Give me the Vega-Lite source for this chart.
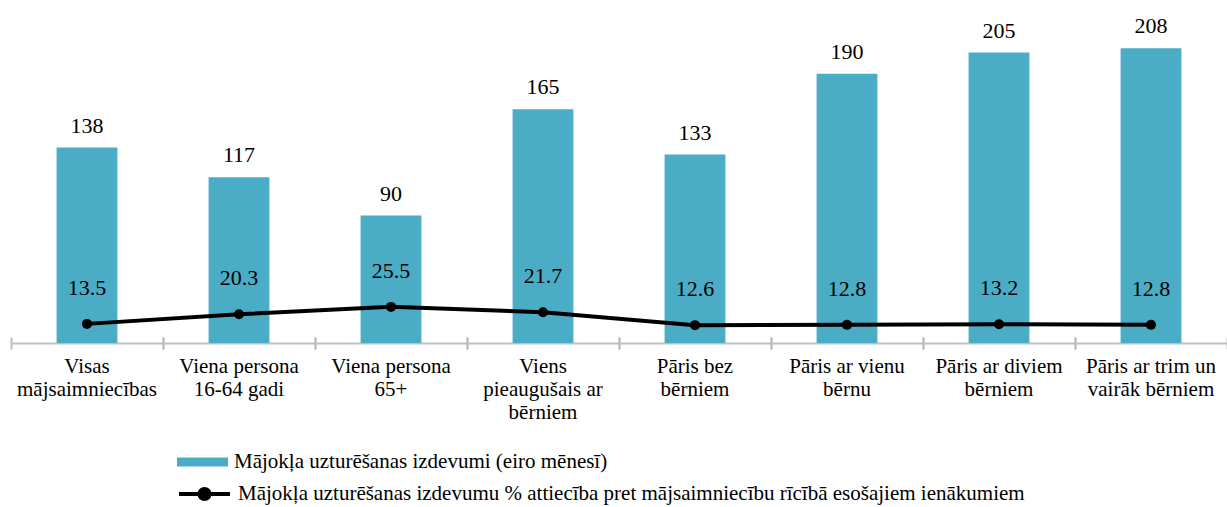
{
  "$schema": "https://vega.github.io/schema/vega-lite/v6.json",
  "width": 1216,
  "height": 340,
  "padding": {"left": 10, "top": 3, "right": 0, "bottom": 0},
  "background": "white",
  "config": {"view": {"stroke": null}, "font": "Liberation Serif"},
  "data": {
    "values": [
      {"cat": "Visas|mājsaimniecības", "exp": 138, "ratio": 13.5},
      {"cat": "Viena persona|16-64 gadi", "exp": 117, "ratio": 20.3},
      {"cat": "Viena persona|65+", "exp": 90, "ratio": 25.5},
      {"cat": "Viens|pieaugušais ar|bērniem", "exp": 165, "ratio": 21.7},
      {"cat": "Pāris bez|bērniem", "exp": 133, "ratio": 12.6},
      {"cat": "Pāris ar vienu|bērnu", "exp": 190, "ratio": 12.8},
      {"cat": "Pāris ar diviem|bērniem", "exp": 205, "ratio": 13.2},
      {"cat": "Pāris ar trim un|vairāk bērniem", "exp": 208, "ratio": 12.8}
    ]
  },
  "layer": [
    {
      "mark": {"type": "bar", "width": {"band": 0.4}},
      "encoding": {
        "x": {"field": "cat", "type": "nominal", "sort": null,
          "scale": {"paddingInner": 0, "paddingOuter": 0},
          "axis": {"orient": "bottom", "title": null, "labelExpr": "split(datum.value, '|')", "labelAngle": 0, "ticks": false, "domain": false, "grid": false,
            "labelFont": "Liberation Serif", "labelFontSize": 21, "labelColor": "black", "labelPadding": 12, "labelLineHeight": 23,
            "labelBaseline": "top", "labelOverlap": false, "labelBound": false}},
        "y": {"field": "exp", "type": "quantitative", "scale": {"domain": [0, 240]}, "axis": null},
        "fill": {"datum": "Mājokļa uzturēšanas izdevumi (eiro mēnesī)", "type": "nominal",
          "scale": {"range": ["#4BACC6"]},
          "legend": {"orient": "none", "legendX": 166, "legendY": 433.5, "title": null, "padding": 0,
            "symbolType": "M-1,-0.18H1V0.18H-1Z", "symbolSize": 2601, "symbolStrokeWidth": 0, "symbolOpacity": 1,
            "labelOffset": 6, "labelFont": "Liberation Serif", "labelFontSize": 21, "labelColor": "black", "labelLimit": 1200}}
      }
    },
    {
      "mark": {"type": "text", "baseline": "middle", "dy": -22, "fontSize": 22, "font": "Liberation Serif", "color": "black"},
      "encoding": {
        "x": {"field": "cat", "type": "nominal", "sort": null,
          "axis": {"orient": "bottom", "title": null, "bandPosition": 0, "labels": false, "ticks": true, "tickSize": 6, "tickColor": "#BFBFBF", "tickWidth": 2,
            "domain": true, "domainColor": "#BFBFBF", "domainWidth": 2, "grid": false}},
        "y": {"field": "exp", "type": "quantitative", "scale": {"domain": [0, 240]}, "axis": null},
        "text": {"field": "exp", "type": "quantitative"}
      }
    },
    {
      "mark": {"type": "line", "strokeWidth": 4},
      "encoding": {
        "x": {"field": "cat", "type": "nominal", "sort": null,
          "axis": {"orient": "bottom", "title": null, "bandPosition": 1, "labels": false, "ticks": true, "tickSize": 6, "tickColor": "#BFBFBF", "tickWidth": 2,
            "domain": false, "grid": false}},
        "y": {"field": "ratio", "type": "quantitative", "scale": {"domain": [0, 240]}, "axis": null},
        "stroke": {"datum": "Mājokļa uzturēšanas izdevumu % attiecība pret mājsaimniecību rīcībā esošajiem ienākumiem", "type": "nominal",
          "scale": {"range": ["black"]},
          "legend": {"orient": "none", "legendX": 166, "legendY": 463.5, "title": null, "padding": 0,
            "symbolType": "M-1,0H1M-0.2,0A0.2,0.2 0 1,0 0.2,0A0.2,0.2 0 1,0 -0.2,0Z", "symbolSize": 2601,
            "symbolStrokeWidth": 4, "symbolFillColor": "black", "symbolStrokeColor": "black", "symbolOpacity": 1,
            "labelOffset": 6, "labelFont": "Liberation Serif", "labelFontSize": 21, "labelColor": "black", "labelLimit": 1200}}
      }
    },
    {
      "mark": {"type": "circle", "size": 100, "color": "black", "opacity": 1},
      "encoding": {
        "x": {"field": "cat", "type": "nominal", "sort": null,
          "axis": {"orient": "bottom", "title": null, "bandPosition": 0, "labels": false, "ticks": true, "tickSize": -6, "tickColor": "#BFBFBF", "tickWidth": 2,
            "domain": false, "grid": false}},
        "y": {"field": "ratio", "type": "quantitative", "scale": {"domain": [0, 240]}, "axis": null}
      }
    },
    {
      "mark": {"type": "text", "baseline": "middle", "dy": -36, "fontSize": 22, "font": "Liberation Serif", "color": "black"},
      "encoding": {
        "x": {"field": "cat", "type": "nominal", "sort": null,
          "axis": {"orient": "bottom", "title": null, "bandPosition": 1, "labels": false, "ticks": true, "tickSize": -6, "tickColor": "#BFBFBF", "tickWidth": 2,
            "domain": false, "grid": false}},
        "y": {"field": "ratio", "type": "quantitative", "scale": {"domain": [0, 240]}, "axis": null},
        "text": {"field": "ratio", "type": "quantitative", "format": ".1f"}
      }
    }
  ],
  "resolve": {"axis": {"x": "independent"}, "scale": {"x": "shared", "y": "shared"}}
}
